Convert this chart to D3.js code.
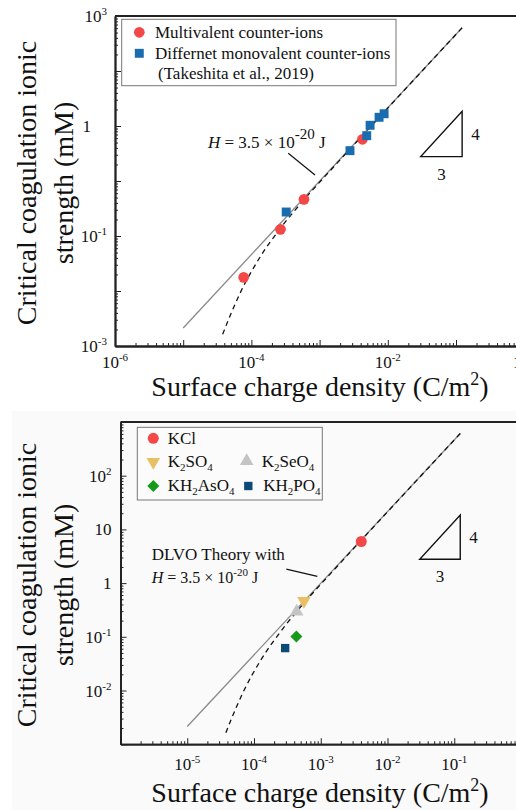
<!DOCTYPE html>
<html><head><meta charset="utf-8">
<script src="https://cdn.jsdelivr.net/npm/d3@7"></script>
<style>
body{margin:0;background:#fff}
svg{display:block}
text{font-family:"Liberation Serif","Times New Roman",serif;fill:#111}
</style>
</head><body><svg id="c" width="516" height="810" font-family="Liberation Serif, Times New Roman, serif"></svg>
<script>
// ---------------- data ----------------
// Top panel
const multivalentX = [7.7e-5, 2.67e-4, 5.9e-4, 4.25e-3];
const multivalentY = [0.0177, 0.132, 0.464, 5.73];
const monovalentX = [3.24e-4, 2.79e-3, 4.91e-3, 5.5e-3, 7.45e-3, 8.83e-3];
const monovalentY = [0.273, 3.56, 6.67, 10.3, 14.4, 16.7];
// Bottom panel
const kclX = [4.05e-3],  kclY = [5.95];
const k2so4X = [5.6e-4], k2so4Y = [0.468];
const k2seo4X = [4.36e-4], k2seo4Y = [0.296];
const kh2aso4X = [4.31e-4], kh2aso4Y = [0.101];
const kh2po4X = [2.93e-4], kh2po4Y = [0.0616];
// Theory curves (both panels)
const asymX = [1e-5, 0.123];
const asymY = [0.00213, 610];
const dlvoX = [3.79e-5, 4.59e-5, 6.81e-5, 1.26e-4, 2.78e-4, 6.46e-4, 1.59e-3, 1e-2, 0.123];
const dlvoY = [1.63e-3, 2.97e-3, 9.08e-3, 0.0366, 0.148, 0.519, 1.78, 21.2, 610];
// slope triangle (data coords)
const triX = [0.0304, 0.123];
const triY = [2.78, 18.5];
// tick labels
const topXTicks = [1e-6, 1e-4, 1e-2, 1e0];
const topXLabels = [["10","-6"],["10","-4"],["10","-2"],["10","0"]];
const topYTicks = [1e-3, 1e-1, 1e1, 1e3];
const topYLabels = [["10","-3"],["10","-1"],["1",""],["10","3"]];
const botXTicks = [1e-5, 1e-4, 1e-3, 1e-2, 1e-1];
const botXLabels = [["10","-5"],["10","-4"],["10","-3"],["10","-2"],["10","-1"]];
const botYTicks = [1e-2, 1e-1, 1, 10, 100];
const botYLabels = [["10","-2"],["10","-1"],["1",""],["10",""],["10","2"]];

// ---------------- drawing ----------------
const svg = d3.select("#c");
svg.append("rect").attr("x",12).attr("y",411).attr("width",504).attr("height",399).attr("fill","#fafafa");

const majors = d3.range(-6, 1).map(k => Math.pow(10, k));
const minors = [];
for (let k = -6; k < 0; k++) for (let m = 2; m <= 9; m++) minors.push(m * Math.pow(10, k));
const yMajors = d3.range(-3, 4).map(k => Math.pow(10, k));
const yMinors = [];
for (let k = -3; k < 3; k++) for (let m = 2; m <= 9; m++) yMinors.push(m * Math.pow(10, k));

function supText(g, xpos, ypos, base, sup, anchor, fs, sfs, dy) {
  const t = g.append("text").attr("x", xpos).attr("y", ypos).attr("text-anchor", anchor).attr("font-size", fs);
  t.append("tspan").text(base);
  if (sup) t.append("tspan").attr("font-size", sfs).attr("dy", -dy).text(sup);
  return t;
}

function panel(cfg) {
  const g = svg.append("g");
  const x = d3.scaleLog().domain([1e-6, 1]).range(cfg.xr);
  const y = d3.scaleLog().domain([1e-3, 1e3]).range(cfg.yr);
  const x0 = cfg.xr[0], y0 = cfg.yr[0], y1 = cfg.yr[1];

  const ax = (gen, vals, size) => gen.tickValues(vals).tickSize(size).tickSizeOuter(0).tickFormat("");
  g.append("g").attr("transform", `translate(0,${y0})`).call(ax(d3.axisBottom(x), minors, -3));
  g.append("g").attr("transform", `translate(0,${y0})`).call(ax(d3.axisBottom(x), majors, -6));
  g.append("g").attr("transform", `translate(${x0},0)`).call(ax(d3.axisLeft(y), yMinors, -3));
  g.append("g").attr("transform", `translate(${x0},0)`).call(ax(d3.axisLeft(y), yMajors, -6));
  g.selectAll(".domain").attr("stroke", "#222").attr("stroke-width", 1.8);
  g.selectAll(".tick line").attr("stroke", "#222").attr("stroke-width", 1);
  g.append("line").attr("x1", x0).attr("x2", 600).attr("y1", y1).attr("y2", y1)
    .attr("stroke", "#222").attr("stroke-width", 1.8);

  cfg.xTicks.forEach((v, i) => {
    const l = cfg.xLabels[i];
    supText(g, x(v), y0 + cfg.xLabOff, l[0], l[1], "middle", 17, 11, 7);
  });
  cfg.yTicks.forEach((v, i) => {
    const l = cfg.yLabels[i];
    const xx = (cfg.yLabelX && cfg.yLabelX[i] != null) ? cfg.yLabelX[i] : x0 - cfg.yLabOff;
    supText(g, xx, y(v) + 6, l[0], l[1], "end", 17, 11, 7);
  });

  g.append("text").attr("font-size", 28).attr("text-anchor", "middle")
    .attr("transform", `translate(36,${cfg.yTitleC}) rotate(-90)`).text("Critical coagulation ionic");
  g.append("text").attr("font-size", 28).attr("text-anchor", "middle")
    .attr("transform", `translate(73,${cfg.yTitleC}) rotate(-90)`).text("strength (mM)");
  const xt = g.append("text").attr("font-size", 28).attr("text-anchor", "middle")
    .attr("x", 320).attr("y", cfg.xTitleY);
  xt.append("tspan").text("Surface charge density (C/m");
  xt.append("tspan").attr("font-size", 18).attr("dy", -11).text("2");
  xt.append("tspan").attr("dy", 11).text(")");

  const line = d3.line().x(d => x(d[0])).y(d => y(d[1]));
  g.append("path").datum(d3.zip(asymX, asymY)).attr("d", line)
    .attr("fill", "none").attr("stroke", "#8a8a8a").attr("stroke-width", 1.3);
  g.append("path").datum(d3.zip(dlvoX, dlvoY)).attr("d", d3.line().x(d => x(d[0])).y(d => y(d[1])).curve(d3.curveMonotoneX))
    .attr("fill", "none").attr("stroke", "#111").attr("stroke-width", 1.3).attr("stroke-dasharray", "5,4");

  const tri = [[triX[0], triY[0]], [triX[1], triY[0]], [triX[1], triY[1]]];
  g.append("path").attr("d", line(tri) + "Z")
    .attr("fill", "none").attr("stroke", "#111").attr("stroke-width", 1.4);
  g.append("text").attr("font-size", 17).attr("x", x(triX[1]) + 9).attr("y", (y(triY[0]) + y(triY[1])) / 2 + 6).text("4");
  g.append("text").attr("font-size", 17).attr("text-anchor", "middle")
    .attr("x", (x(triX[0]) + x(triX[1])) / 2).attr("y", y(triY[0]) + 23).text("3");

  g.append("line").attr("x1", x(cfg.leadX[0])).attr("y1", y(cfg.leadY[0]))
    .attr("x2", x(cfg.leadX[1])).attr("y2", y(cfg.leadY[1]))
    .attr("stroke", "#111").attr("stroke-width", 1.2);

  cfg.series.forEach(s => {
    g.selectAll(null).data(d3.zip(s.x, s.y)).join("path")
      .attr("transform", d => `translate(${x(d[0])},${y(d[1])}) rotate(${s.rot || 0})`)
      .attr("d", d3.symbol().type(s.type).size(s.size)())
      .attr("fill", s.color);
  });
  return {g, x, y};
}

const RED = "#f44848", BLUE = "#1a6cb0";

// ---------- top panel ----------
const topP = panel({
  xr: [115, 524.2], yr: [346, 16],
  xTicks: topXTicks, xLabels: topXLabels, xLabOff: 22,
  yTicks: topYTicks, yLabels: topYLabels, yLabOff: 8, yLabelX: [null, null, 91, null],
  yTitleC: 183, xTitleY: 396,
  leadX: [3.47e-4, 8.57e-4], leadY: [3.19, 1.29],
  series: [
    {x: multivalentX, y: multivalentY, type: d3.symbolCircle, size: 90, color: RED},
    {x: monovalentX, y: monovalentY, type: d3.symbolSquare, size: 80, color: BLUE}
  ]
});
{
  const g = topP.g;
  g.append("rect").attr("x", 121.7).attr("y", 19.3).attr("width", 274.3).attr("height", 66.4)
    .attr("fill", "#fff").attr("stroke", "#777").attr("stroke-width", 1);
  g.append("path").attr("transform", "translate(139.3,32.3)").attr("d", d3.symbol().type(d3.symbolCircle).size(90)()).attr("fill", RED);
  g.append("path").attr("transform", "translate(139.3,53.3)").attr("d", d3.symbol().type(d3.symbolSquare).size(80)()).attr("fill", BLUE);
  g.append("text").attr("font-size", 17).attr("x", 155).attr("y", 37.5).text("Multivalent counter-ions");
  g.append("text").attr("font-size", 17).attr("x", 155).attr("y", 59).text("Differnet monovalent counter-ions");
  g.append("text").attr("font-size", 17).attr("x", 158).attr("y", 79).text("(Takeshita et al., 2019)");
  const t = g.append("text").attr("font-size", 17).attr("x", 208).attr("y", 148);
  t.append("tspan").attr("font-style", "italic").text("H");
  t.append("tspan").text(" = 3.5 × 10");
  t.append("tspan").attr("font-size", 15).attr("dy", -9).text("-20");
  t.append("tspan").attr("dy", 9).text(" J");
}

// ---------- bottom panel ----------
const botP = panel({
  xr: [120.5, 521], yr: [744.2, 422],
  xTicks: botXTicks, xLabels: botXLabels, xLabOff: 26,
  yTicks: botYTicks, yLabels: botYLabels, yLabOff: 9,
  yTitleC: 585, xTitleY: 802,
  leadX: [3.05e-4, 8.89e-4], leadY: [1.82, 1.33],
  series: [
    {x: kclX, y: kclY, type: d3.symbolCircle, size: 95, color: RED},
    {x: k2so4X, y: k2so4Y, type: d3.symbolTriangle, size: 80, color: "#e8bf62", rot: 180},
    {x: k2seo4X, y: k2seo4Y, type: d3.symbolTriangle, size: 80, color: "#c4c4c4"},
    {x: kh2aso4X, y: kh2aso4Y, type: d3.symbolSquare, size: 72, color: "#169a1a", rot: 45},
    {x: kh2po4X, y: kh2po4Y, type: d3.symbolSquare, size: 70, color: "#0c4b78"}
  ]
});
{
  const g = botP.g;
  g.append("rect").attr("x", 137.3).attr("y", 427.3).attr("width", 185).attr("height", 72.7)
    .attr("fill", "#fbfbfb").attr("stroke", "#777").attr("stroke-width", 1);
  const lm = (tx, ty, type, size, color, rot) =>
    g.append("path").attr("transform", `translate(${tx},${ty}) rotate(${rot || 0})`)
      .attr("d", d3.symbol().type(type).size(size)()).attr("fill", color);
  lm(153.3, 438.3, d3.symbolCircle, 95, RED);
  lm(153.3, 462, d3.symbolTriangle, 80, "#e8bf62", 180);
  lm(246.7, 461, d3.symbolTriangle, 80, "#c4c4c4");
  lm(153.3, 486, d3.symbolSquare, 72, "#169a1a", 45);
  lm(248.3, 486, d3.symbolSquare, 70, "#0c4b78");
  const chem = (tx, ty, parts) => {
    const t = g.append("text").attr("font-size", 17).attr("x", tx).attr("y", ty);
    let down = false;
    parts.forEach(p => {
      if (typeof p === "string") { t.append("tspan").attr("dy", down ? -4 : 0).text(p); down = false; }
      else { t.append("tspan").attr("font-size", 11).attr("dy", 4).text(p[0]); down = true; }
    });
  };
  chem(167.7, 444, ["KCl"]);
  chem(167.7, 467, ["K", ["2"], "SO", ["4"]]);
  chem(261.7, 467, ["K", ["2"], "SeO", ["4"]]);
  chem(167.7, 491, ["KH", ["2"], "AsO", ["4"]]);
  chem(263.3, 491, ["KH", ["2"], "PO", ["4"]]);
  g.append("text").attr("font-size", 17).attr("x", 151.7).attr("y", 560).text("DLVO Theory with");
  const t = g.append("text").attr("font-size", 16).attr("x", 151.7).attr("y", 582.5);
  t.append("tspan").attr("font-style", "italic").text("H");
  t.append("tspan").text(" = 3.5 × 10");
  t.append("tspan").attr("font-size", 11).attr("dy", -7).text("-20");
  t.append("tspan").attr("dy", 7).text(" J");
}
</script></body></html>
